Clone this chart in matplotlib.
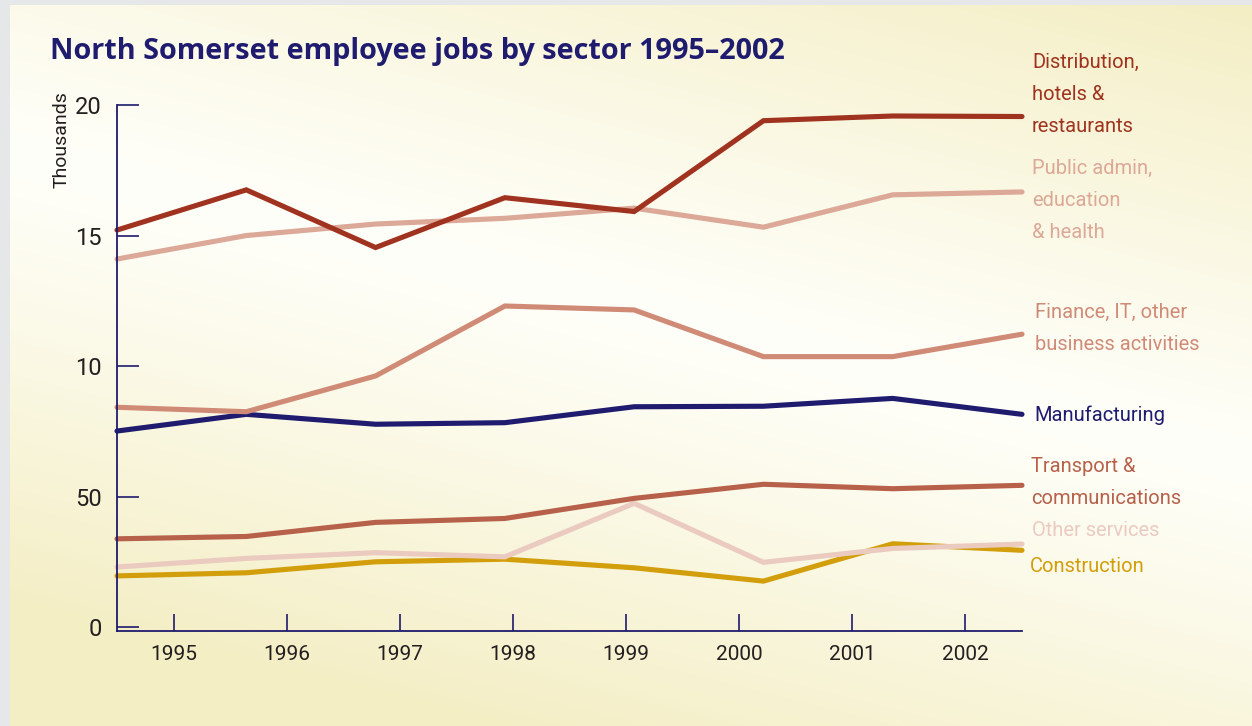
import numpy as np
import matplotlib.pyplot as plt

# employee jobs (thousands), one value per survey point 1995-2002
years = [1995, 1996, 1997, 1998, 1999, 2000, 2001, 2002]
distribution = [15.22, 16.76, 14.55, 16.46, 15.93, 19.41, 19.59, 19.57]
public_admin = [14.11, 15.01, 15.45, 15.67, 16.06, 15.33, 16.57, 16.68]
finance = [8.43, 8.26, 9.63, 12.31, 12.16, 10.37, 10.37, 11.23]
manufacturing = [7.52, 8.16, 7.78, 7.84, 8.45, 8.47, 8.77, 8.16]
transport = [3.39, 3.48, 4.02, 4.17, 4.94, 5.48, 5.31, 5.44]
other_services = [2.31, 2.64, 2.86, 2.70, 4.75, 2.49, 3.02, 3.19]
construction = [1.97, 2.09, 2.51, 2.61, 2.28, 1.77, 3.20, 2.95]

ytick_vals = [0, 5, 10, 15, 20]
ytick_labels = ["0", "50", "10", "15", "20"]

W, H = 1252, 726
NAVY = "#1f1b6e"
TXT = "#231f20"

plt.rcParams["font.family"] = ["Roboto", "DejaVu Sans"]

fig = plt.figure(figsize=(W / 100, H / 100), dpi=100)
fig.patch.set_facecolor("#e6e7e9")

# pale yellow panel with a soft white diagonal band
bg = fig.add_axes([10 / W, 0, 1 - 10 / W, 1 - 5 / H], zorder=0)
xx, yy = np.meshgrid(np.arange(10, W), np.arange(5, H))
d = np.abs(yy - (150 + 0.25 * xx))
t = np.clip(d / 460, 0, 1) ** 1.1
white = np.array([255, 255, 250]) / 255
yellow = np.array([244, 238, 196]) / 255
img = white[None, None, :] * (1 - t[..., None]) + yellow[None, None, :] * t[..., None]
bg.imshow(img, aspect="auto", extent=[0, 1, 0, 1], origin="upper")
bg.axis("off")

ax = fig.add_axes([117 / W, 1 - 630.7 / H, (1022 - 117) / W, (630.7 - 105.3) / H], zorder=1)
ax.set_facecolor("none")

px = np.linspace(1994.5, 2002.5, len(years))
series = [
    (construction, "#d39e0b"),
    (other_services, "#ebcabf"),
    (transport, "#b7614b"),
    (manufacturing, NAVY),
    (finance, "#d08b77"),
    (public_admin, "#dca897"),
    (distribution, "#a0331f"),
]
for vals, col in series:
    ax.plot(px, vals, color=col, lw=3.7, solid_capstyle="round",
            solid_joinstyle="miter", clip_on=False)

ax.set_xlim(1994.5, 2002.5)
ax.set_ylim(-0.13, 20)
ax.set_xticks(years)
ax.set_xticklabels([str(y) for y in years], fontsize=15, color=TXT)
ax.set_yticks(ytick_vals)
ax.set_yticklabels(ytick_labels, fontsize=17, color=TXT)
ax.tick_params(axis="y", direction="in", length=16, width=1.2, color=NAVY, pad=11)
ax.tick_params(axis="x", direction="in", length=12, width=1.2, color=NAVY, pad=10)
for s in ["top", "right"]:
    ax.spines[s].set_visible(False)
for s in ["left", "bottom"]:
    ax.spines[s].set_color(NAVY)
    ax.spines[s].set_linewidth(1.3)

fig.text(62 / W, 1 - 140 / H, "Thousands", rotation=90, ha="center", va="center",
         fontsize=14, color=TXT)

fig.text(50 / W, 1 - 52 / H, "North Somerset employee jobs by sector 1995\u20132002",
         fontsize=20.8, fontweight="bold", color=NAVY, va="center", ha="left",
         family=["Open Sans", "DejaVu Sans"])

# series labels down the right-hand side
labels = [
    (["Distribution,", "hotels &", "restaurants"], 1032, 62, "#a0331f"),
    (["Public admin,", "education", "& health"], 1032, 168, "#dca897"),
    (["Finance, IT, other", "business activities"], 1035, 312, "#d08b77"),
    (["Manufacturing"], 1034, 415, NAVY),
    (["Transport &", "communications"], 1031, 466, "#b7614b"),
    (["Other services"], 1032, 531, "#ebcabf"),
    (["Construction"], 1030, 566, "#d39e0b"),
]
for lines, lx, ly, col in labels:
    for i, line in enumerate(lines):
        fig.text(lx / W, 1 - (ly + 32 * i) / H, line, fontsize=14.5, color=col,
                 ha="left", va="center")

fig.savefig("out.png", dpi=100, facecolor=fig.get_facecolor())
